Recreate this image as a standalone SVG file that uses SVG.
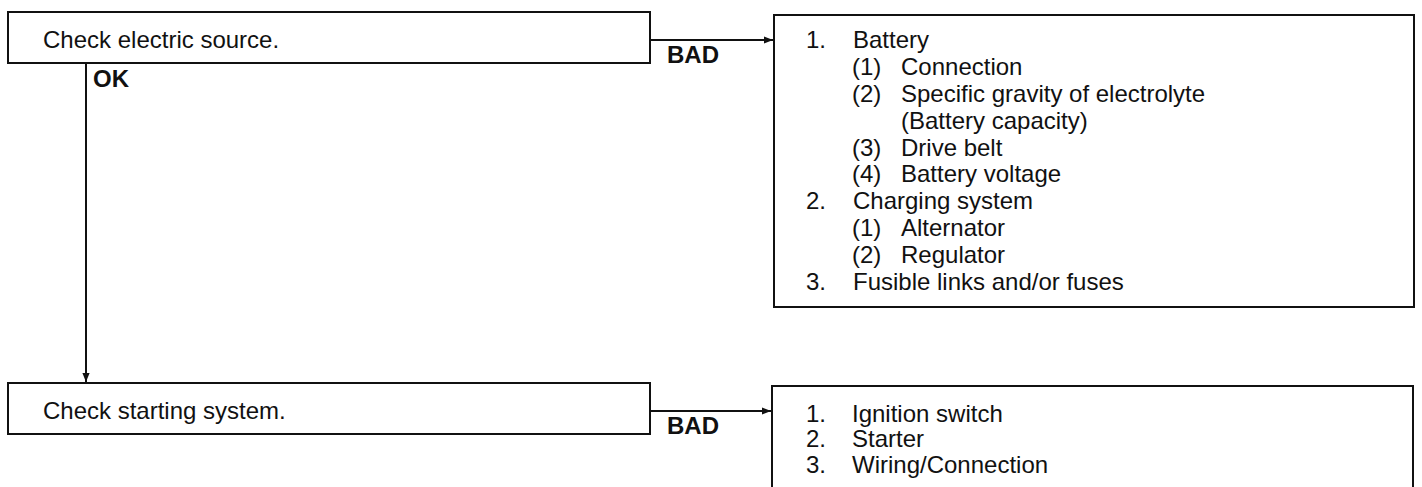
<svg xmlns="http://www.w3.org/2000/svg" width="1422" height="487" viewBox="0 0 1422 487">
<style>
.box{fill:#fff;stroke:#111;stroke-width:2}
.t{font-family:"Liberation Sans",Arial,sans-serif;font-size:24px;fill:#111}
.b{font-family:"Liberation Sans",Arial,sans-serif;font-size:24px;font-weight:bold;fill:#111}
.c{fill:none;stroke:#111;stroke-width:2}
</style>
<defs>
<marker id="ah" viewBox="0 0 10 10" refX="10" refY="5" markerWidth="9" markerHeight="9" markerUnits="userSpaceOnUse" orient="auto">
<path d="M0,1 L10,5 L0,9 Z" fill="#111"/>
</marker>
</defs>
<g id="connectors">
<line class="c" x1="650" y1="40" x2="773" y2="40" marker-end="url(#ah)"/>
<line class="c" x1="86" y1="63" x2="86" y2="382" marker-end="url(#ah)"/>
<line class="c" x1="650" y1="411" x2="771" y2="411" marker-end="url(#ah)"/>
<text class="b" x="667" y="63">BAD</text>
<text class="b" x="93" y="87">OK</text>
<text class="b" x="667" y="434">BAD</text>
</g>
<g id="check-electric">
<rect class="box" x="8" y="12" width="642" height="51"/>
<text class="t" x="43" y="48">Check electric source.</text>
</g>
<g id="electric-causes">
<rect class="box" x="774" y="15" width="640" height="292"/>
<text class="t" x="806" y="48">1.</text><text class="t" x="853" y="48">Battery</text>
<text class="t" x="852" y="75">(1)</text><text class="t" x="901" y="75">Connection</text>
<text class="t" x="852" y="102">(2)</text><text class="t" x="901" y="102">Specific gravity of electrolyte</text>
<text class="t" x="901" y="129">(Battery capacity)</text>
<text class="t" x="852" y="156">(3)</text><text class="t" x="901" y="156">Drive belt</text>
<text class="t" x="852" y="182">(4)</text><text class="t" x="901" y="182">Battery voltage</text>
<text class="t" x="806" y="209">2.</text><text class="t" x="853" y="209">Charging system</text>
<text class="t" x="852" y="236">(1)</text><text class="t" x="901" y="236">Alternator</text>
<text class="t" x="852" y="263">(2)</text><text class="t" x="901" y="263">Regulator</text>
<text class="t" x="806" y="290">3.</text><text class="t" x="853" y="290">Fusible links and/or fuses</text>
</g>
<g id="check-starting">
<rect class="box" x="8" y="383" width="642" height="51"/>
<text class="t" x="43" y="419">Check starting system.</text>
</g>
<g id="starting-causes">
<rect class="box" x="772" y="386" width="641" height="106"/>
<text class="t" x="806" y="422">1.</text><text class="t" x="852" y="422">Ignition switch</text>
<text class="t" x="806" y="447">2.</text><text class="t" x="852" y="447">Starter</text>
<text class="t" x="806" y="473">3.</text><text class="t" x="852" y="473">Wiring/Connection</text>
</g>
</svg>
